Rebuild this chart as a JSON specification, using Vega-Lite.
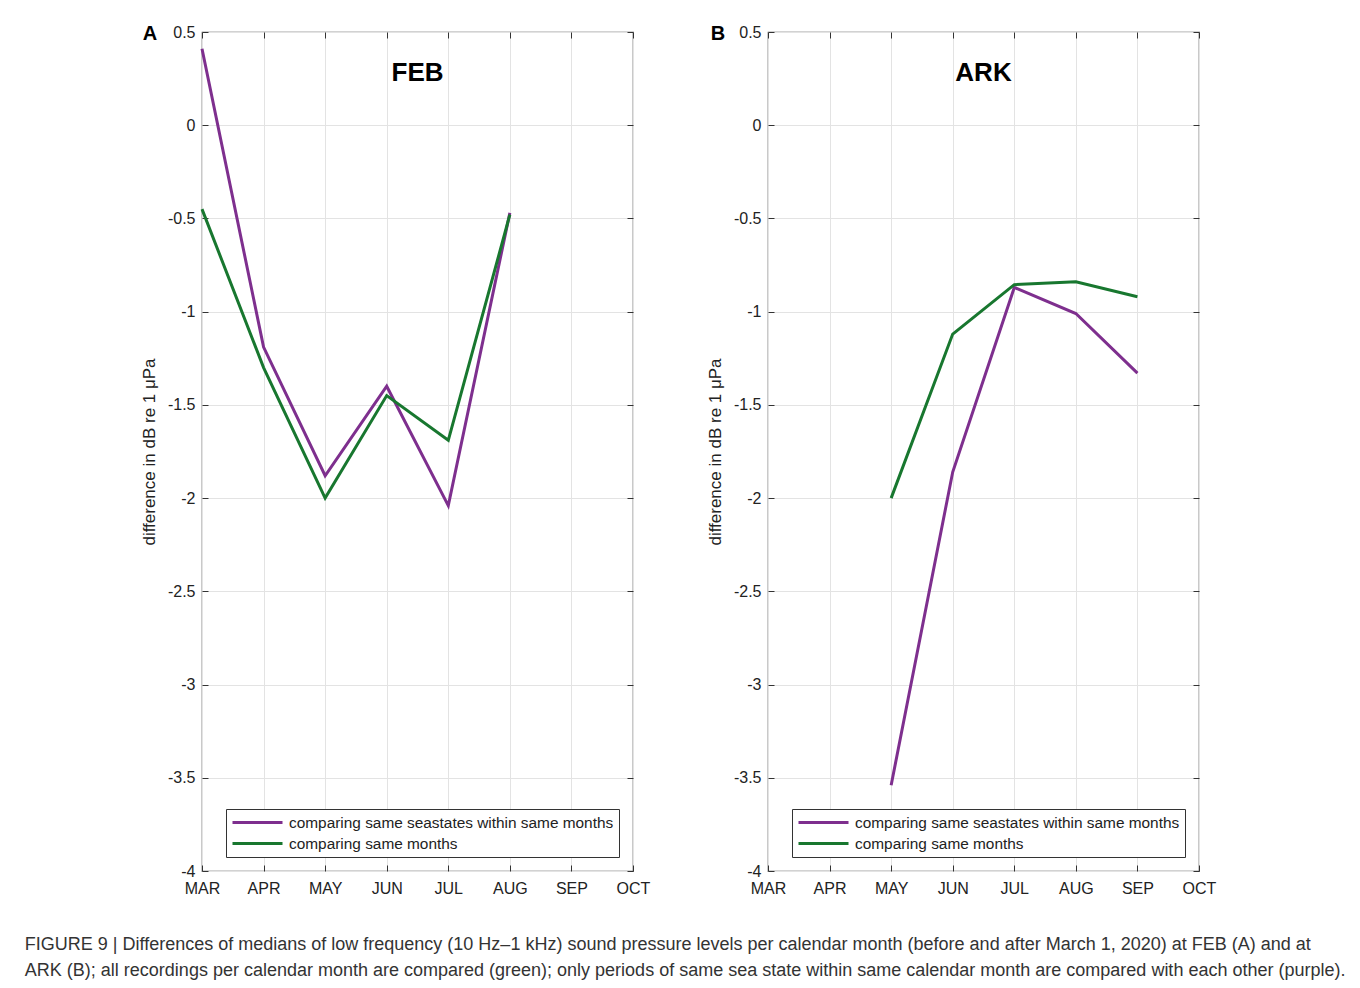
{
  "$schema": "https://vega.github.io/schema/vega-lite/v6.json",
  "background": "white",
  "padding": {"left": 24, "top": 23, "right": 10, "bottom": 10},
  "datasets": {
    "d": [
      {"panel": "A", "month": "MAR", "series": "comparing same seastates within same months", "value": 0.41},
      {"panel": "A", "month": "APR", "series": "comparing same seastates within same months", "value": -1.19},
      {"panel": "A", "month": "MAY", "series": "comparing same seastates within same months", "value": -1.88},
      {"panel": "A", "month": "JUN", "series": "comparing same seastates within same months", "value": -1.4},
      {"panel": "A", "month": "JUL", "series": "comparing same seastates within same months", "value": -2.04},
      {"panel": "A", "month": "AUG", "series": "comparing same seastates within same months", "value": -0.47},
      {"panel": "A", "month": "MAR", "series": "comparing same months", "value": -0.45},
      {"panel": "A", "month": "APR", "series": "comparing same months", "value": -1.3},
      {"panel": "A", "month": "MAY", "series": "comparing same months", "value": -2.0},
      {"panel": "A", "month": "JUN", "series": "comparing same months", "value": -1.45},
      {"panel": "A", "month": "JUL", "series": "comparing same months", "value": -1.69},
      {"panel": "A", "month": "AUG", "series": "comparing same months", "value": -0.48},
      {"panel": "B", "month": "MAY", "series": "comparing same seastates within same months", "value": -3.54},
      {"panel": "B", "month": "JUN", "series": "comparing same seastates within same months", "value": -1.86},
      {"panel": "B", "month": "JUL", "series": "comparing same seastates within same months", "value": -0.87},
      {"panel": "B", "month": "AUG", "series": "comparing same seastates within same months", "value": -1.01},
      {"panel": "B", "month": "SEP", "series": "comparing same seastates within same months", "value": -1.33},
      {"panel": "B", "month": "MAY", "series": "comparing same months", "value": -2.0},
      {"panel": "B", "month": "JUN", "series": "comparing same months", "value": -1.12},
      {"panel": "B", "month": "JUL", "series": "comparing same months", "value": -0.855},
      {"panel": "B", "month": "AUG", "series": "comparing same months", "value": -0.84},
      {"panel": "B", "month": "SEP", "series": "comparing same months", "value": -0.92}
    ]
  },
  "data": {"name": "d"},
  "title": {
    "text": [
      "FIGURE 9 | Differences of medians of low frequency (10 Hz–1 kHz) sound pressure levels per calendar month (before and after March 1, 2020) at FEB (A) and at",
      "ARK (B); all recordings per calendar month are compared (green); only periods of same sea state within same calendar month are compared with each other (purple)."
    ],
    "orient": "bottom",
    "anchor": "start",
    "frame": "bounds",
    "dx": -115,
    "offset": 39,
    "font": "Liberation Sans",
    "fontSize": 18,
    "fontWeight": "normal",
    "color": "#333333",
    "lineHeight": 26
  },
  "spacing": 54,
  "resolve": {"scale": {"color": "independent"}, "legend": {"color": "independent"}},
  "hconcat": [
    {
      "width": 431,
      "height": 839,
      "transform": [{"filter": "datum.panel == 'A'"}],
      "title": {"text": "FEB", "fontSize": 26, "fontWeight": "bold", "font": "Liberation Sans", "color": "black", "offset": -62},
      "layer": [
        {
          "mark": {"type": "line", "strokeWidth": 3},
          "encoding": {
            "x": {"field": "month", "type": "ordinal", "scale": {"type": "point", "domain": ["MAR","APR","MAY","JUN","JUL","AUG","SEP","OCT"], "padding": 0}, "axis": {"orient": "bottom", "title": null}},
            "y": {"field": "value", "type": "quantitative", "scale": {"domain": [-4, 0.5], "nice": false, "zero": false}, "axis": {"orient": "left", "title": "difference in dB re 1 μPa", "values": [-4,-3.5,-3,-2.5,-2,-1.5,-1,-0.5,0,0.5]}},
            "color": {"field": "series", "type": "nominal", "scale": {"domain": ["comparing same seastates within same months", "comparing same months"], "range": ["#7E2F8E", "#18772F"]}, "legend": {"orient": "bottom-right", "offset": 14, "title": null}}
          }
        },
        {
          "mark": {"type": "line", "opacity": 0},
          "encoding": {
            "x": {"field": "month", "type": "ordinal", "scale": {"type": "point", "domain": ["MAR","APR","MAY","JUN","JUL","AUG","SEP","OCT"], "padding": 0}, "axis": {"orient": "top", "title": null, "labels": false, "grid": false}},
            "y": {"field": "value", "type": "quantitative", "scale": {"domain": [-4, 0.5], "nice": false, "zero": false}, "axis": {"orient": "right", "title": null, "labels": false, "grid": false, "values": [-4,-3.5,-3,-2.5,-2,-1.5,-1,-0.5,0,0.5]}}
          }
        },
        {
          "data": {"values": [{"t": "A"}]},
          "mark": {"type": "text", "fontSize": 20, "fontWeight": "bold", "font": "Liberation Sans", "dx": -52, "dy": 2, "align": "center", "baseline": "middle", "color": "black"},
          "encoding": {
            "x": {"datum": "MAR", "type": "ordinal", "axis": null},
            "y": {"datum": 0.5, "type": "quantitative", "axis": null},
            "text": {"field": "t"}
          }
        }
      ],
      "resolve": {"axis": {"x": "independent", "y": "independent"}}
    },
    {
      "width": 431,
      "height": 839,
      "transform": [{"filter": "datum.panel == 'B'"}],
      "title": {"text": "ARK", "fontSize": 26, "fontWeight": "bold", "font": "Liberation Sans", "color": "black", "offset": -62},
      "layer": [
        {
          "mark": {"type": "line", "strokeWidth": 3},
          "encoding": {
            "x": {"field": "month", "type": "ordinal", "scale": {"type": "point", "domain": ["MAR","APR","MAY","JUN","JUL","AUG","SEP","OCT"], "padding": 0}, "axis": {"orient": "bottom", "title": null}},
            "y": {"field": "value", "type": "quantitative", "scale": {"domain": [-4, 0.5], "nice": false, "zero": false}, "axis": {"orient": "left", "title": "difference in dB re 1 μPa", "values": [-4,-3.5,-3,-2.5,-2,-1.5,-1,-0.5,0,0.5]}},
            "color": {"field": "series", "type": "nominal", "scale": {"domain": ["comparing same seastates within same months", "comparing same months"], "range": ["#7E2F8E", "#18772F"]}, "legend": {"orient": "bottom-right", "offset": 14, "title": null}}
          }
        },
        {
          "mark": {"type": "line", "opacity": 0},
          "encoding": {
            "x": {"field": "month", "type": "ordinal", "scale": {"type": "point", "domain": ["MAR","APR","MAY","JUN","JUL","AUG","SEP","OCT"], "padding": 0}, "axis": {"orient": "top", "title": null, "labels": false, "grid": false}},
            "y": {"field": "value", "type": "quantitative", "scale": {"domain": [-4, 0.5], "nice": false, "zero": false}, "axis": {"orient": "right", "title": null, "labels": false, "grid": false, "values": [-4,-3.5,-3,-2.5,-2,-1.5,-1,-0.5,0,0.5]}}
          }
        },
        {
          "data": {"values": [{"t": "B"}]},
          "mark": {"type": "text", "fontSize": 20, "fontWeight": "bold", "font": "Liberation Sans", "dx": -50, "dy": 2, "align": "center", "baseline": "middle", "color": "black"},
          "encoding": {
            "x": {"datum": "MAR", "type": "ordinal", "axis": null},
            "y": {"datum": 0.5, "type": "quantitative", "axis": null},
            "text": {"field": "t"}
          }
        }
      ],
      "resolve": {"axis": {"x": "independent", "y": "independent"}}
    }
  ],
  "config": {
    "font": "Liberation Sans",
    "view": {"stroke": "#4d4d4d", "strokeWidth": 1.2},
    "axis": {
      "domain": false,
      "ticks": true,
      "tickSize": -6,
      "tickColor": "#333333",
      "tickWidth": 1,
      "labelPadding": 13,
      "labelFontSize": 16,
      "labelColor": "#222222",
      "labelFont": "Liberation Sans",
      "labelExpr": "'' + datum.value",
      "grid": true,
      "gridColor": "#e3e3e3",
      "gridWidth": 1,
      "titleFont": "Liberation Sans",
      "titleFontSize": 17,
      "titleFontWeight": "normal",
      "titleColor": "#222222",
      "labelAngle": 0
    },
    "axisY": {"titlePadding": 9},
    "axisX": {"labelPadding": 15},
    "legend": {
      "strokeColor": "#333333",
      "fillColor": "white",
      "padding": 5,
      "labelFontSize": 15.4,
      "labelFont": "Liberation Sans",
      "labelColor": "#222222",
      "labelOffset": 5,
      "symbolType": "stroke",
      "symbolSize": 2500,
      "symbolStrokeWidth": 3,
      "clipHeight": 17,
      "rowPadding": 4,
      "labelLimit": 500,
      "cornerRadius": 0
    }
  }
}
